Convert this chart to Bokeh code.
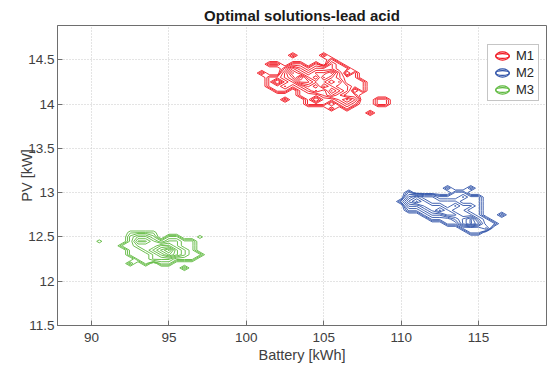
import numpy as np
from bokeh.plotting import figure
from bokeh.models import Range1d, Legend, LegendItem, FixedTicker
from bokeh.embed import file_html
from bokeh.resources import INLINE

title_text = "Optimal solutions-lead acid"
x_label = "Battery [kWh]"
y_label = "PV [kW]"
x_ticks = [90, 95, 100, 105, 110, 115]
y_ticks = [11.5, 12, 12.5, 13, 13.5, 14, 14.5]
series_names = ["M1", "M2", "M3"]
series_colors = ["#f0141e", "#2f52a8", "#5cb83c"]
levels = [0.4, 0.65, 0.9, 1.4, 1.9, 2.4, 2.9, 3.4, 3.9, 4.4, 4.9]

# ---- M1 (red) solution density, rows listed top (high PV) to bottom ----
m1_x = [100.5, 101.0, 101.5, 102.0, 102.5, 103.0, 103.5, 104.0, 104.5, 105.0,
        105.5, 106.0, 106.5, 107.0, 107.5, 108.0, 108.5, 109.0, 109.5]
m1_y = [14.65, 14.60, 14.55, 14.50, 14.45, 14.40, 14.35, 14.30, 14.25, 14.20,
        14.15, 14.10, 14.05, 14.00, 13.95, 13.90, 13.85]
m1_z = [
    [0, 0, 0, 0, 0, 0, 0, 0, 0, 0, 0, 0, 0, 0, 0, 0, 0, 0, 0],
    [0, 0, 0, 0, 0, 0, 0, 0, 0, 0, 0, 0, 0, 0, 0, 0, 0, 0, 0],
    [0, 0, 0, 0, 0, 1, 0, 0, 0, 1, 0, 0, 0, 0, 0, 0, 0, 0, 0],
    [0, 0, 0, 0, 0, 0, 0, 0, 0, 0, 1, 0, 0, 0, 0, 0, 0, 0, 0],
    [0, 0, 1, 1, 0, 1, 1, 0, 1, 0, 2, 1, 0, 0, 0, 0, 0, 0, 0],
    [0, 0, 0, 0, 1, 3, 2, 1, 2, 2, 2, 1, 1, 0, 0, 0, 0, 0, 0],
    [0, 1, 0, 0, 2, 4, 3, 2, 3, 3, 4, 2, 0, 1, 0, 0, 0, 0, 0],
    [0, 0, 1, 1, 2, 3, 5, 3, 2, 4, 3, 2, 1, 1, 0, 0, 0, 0, 0],
    [0, 0, 1, 0, 1, 2, 4, 4, 3, 3, 2, 3, 1, 1, 1, 0, 0, 0, 0],
    [0, 0, 1, 1, 2, 1, 2, 3, 2, 4, 3, 2, 2, 1, 1, 0, 0, 0, 0],
    [0, 0, 0, 1, 1, 0, 1, 2, 3, 2, 4, 3, 2, 0, 1, 0, 0, 0, 0],
    [0, 0, 0, 0, 0, 0, 1, 1, 1, 2, 3, 2, 1, 1, 0, 0, 0, 0, 0],
    [0, 0, 0, 0, 1, 0, 0, 1, 0, 1, 1, 2, 3, 2, 0, 0, 1, 1, 0],
    [0, 0, 0, 0, 0, 0, 0, 1, 1, 1, 0, 1, 2, 1, 0, 0, 1, 1, 0],
    [0, 0, 0, 0, 0, 0, 0, 0, 0, 0, 1, 0, 1, 0, 0, 0, 0, 0, 0],
    [0, 0, 0, 0, 0, 0, 0, 0, 0, 0, 0, 0, 0, 0, 0, 1, 0, 0, 0],
    [0, 0, 0, 0, 0, 0, 0, 0, 0, 0, 0, 0, 0, 0, 0, 0, 0, 0, 0],
]

# ---- M2 (blue) ----
m2_x = [109.5, 110.0, 110.5, 111.0, 111.5, 112.0, 112.5, 113.0, 113.5, 114.0,
        114.5, 115.0, 115.5, 116.0, 116.5, 117.0, 117.5]
m2_y = [13.15, 13.10, 13.05, 13.00, 12.95, 12.90, 12.85, 12.80, 12.75, 12.70,
        12.65, 12.60, 12.55, 12.50, 12.45]
m2_z = [
    [0, 0, 0, 0, 0, 0, 0, 0, 0, 0, 0, 0, 0, 0, 0, 0, 0],
    [0, 0, 0, 0, 0, 0, 0, 0, 0, 0, 0, 0, 0, 0, 0, 0, 0],
    [0, 0, 0, 0, 0, 0, 0, 1, 0, 0, 1, 0, 0, 0, 0, 0, 0],
    [0, 0, 1, 0, 0, 0, 0, 0, 1, 1, 0, 0, 0, 0, 0, 0, 0],
    [0, 0, 2, 3, 2, 2, 1, 1, 1, 2, 1, 1, 0, 0, 0, 0, 0],
    [0, 1, 3, 4, 3, 2, 2, 2, 2, 1, 1, 1, 0, 0, 0, 0, 0],
    [0, 0, 2, 2, 3, 3, 3, 2, 3, 2, 2, 1, 0, 0, 0, 0, 0],
    [0, 0, 1, 1, 2, 3, 4, 3, 2, 2, 1, 1, 0, 0, 0, 0, 0],
    [0, 0, 0, 0, 1, 2, 2, 3, 3, 2, 2, 1, 0, 0, 1, 0, 0],
    [0, 0, 0, 0, 0, 1, 1, 1, 2, 3, 4, 2, 1, 0, 0, 0, 0],
    [0, 0, 0, 0, 0, 0, 0, 1, 1, 3, 4, 3, 1, 1, 0, 0, 0],
    [0, 0, 0, 0, 0, 0, 0, 0, 0, 1, 1, 1, 2, 0, 0, 0, 0],
    [0, 0, 0, 0, 0, 0, 0, 0, 0, 0, 1, 1, 0, 0, 0, 0, 0],
    [0, 0, 0, 0, 0, 0, 0, 0, 0, 0, 0, 0, 0, 0, 0, 0, 0],
    [0, 0, 0, 0, 0, 0, 0, 0, 0, 0, 0, 0, 0, 0, 0, 0, 0],
]

# ---- M3 (green) ----
m3_x = [90.0, 90.5, 91.0, 91.5, 92.0, 92.5, 93.0, 93.5, 94.0, 94.5,
        95.0, 95.5, 96.0, 96.5, 97.0, 97.5]
m3_y = [12.65, 12.60, 12.55, 12.50, 12.45, 12.40, 12.35, 12.30, 12.25, 12.20,
        12.15, 12.10]
m3_z = [
    [0, 0, 0, 0, 0, 0, 0, 0, 0, 0, 0, 0, 0, 0, 0, 0],
    [0, 0, 0, 0, 0, 0, 0, 0, 0, 0, 0, 0, 0, 0, 0, 0],
    [0, 0, 0, 0, 0, 0.6, 0.6, 0.6, 0.6, 0, 0, 0, 0, 0, 0, 0],
    [0, 0, 0, 0, 0, 1, 2, 2, 1, 0, 1, 1, 0, 0, 0.6, 0],
    [0, 0.6, 0, 0, 0, 1, 3, 3, 2, 1, 2, 2, 1, 1, 0, 0],
    [0, 0, 0, 0, 1, 1, 2, 2, 2, 3, 3, 2, 1, 1, 0, 0],
    [0, 0, 0, 0, 0, 1, 1, 2, 3, 4, 5, 3, 2, 1, 0, 0],
    [0, 0, 0, 0, 0, 1, 1, 1, 2, 3, 4, 3, 2, 1, 1, 0],
    [0, 0, 0, 0, 0, 0, 1, 1, 2, 2, 2, 1, 1, 1, 0, 0],
    [0, 0, 0, 0, 0, 1, 0, 1, 0, 1, 1, 0, 0, 0, 0, 0],
    [0, 0, 0, 0, 0, 0, 0, 0, 0, 0, 0, 0, 1, 0, 0, 0],
    [0, 0, 0, 0, 0, 0, 0, 0, 0, 0, 0, 0, 0, 0, 0, 0],
]

FONT = "Liberation Sans"
TXT = "#404040"
AX = "#6e6e6e"

p = figure(width=547, height=368, output_backend="svg", toolbar_location=None,
           x_range=Range1d(87.8, 119.39), y_range=Range1d(11.5, 14.887),
           min_border_left=57, min_border_right=1, min_border_top=25, min_border_bottom=43,
           title=title_text, background_fill_color="white", border_fill_color="white")
p.title.align = "center"
p.title.vertical_align = "middle"
p.title.text_font = FONT
p.title.text_font_size = "15px"
p.title.text_font_style = "bold"
p.title.text_color = "#1a1a1a"
p.title.standoff = 2
p.outline_line_color = AX
p.outline_line_width = 1

for ax in (p.xaxis[0], p.yaxis[0]):
    ax.major_label_text_font = FONT
    ax.major_label_text_font_size = "13.5px"
    ax.major_label_text_color = TXT
    ax.axis_label_text_font = FONT
    ax.axis_label_text_font_size = "14.5px"
    ax.axis_label_text_font_style = "normal"
    ax.axis_label_text_color = TXT
    ax.axis_line_color = AX
    ax.major_tick_line_color = AX
    ax.major_tick_in = 5
    ax.major_tick_out = 0
    ax.minor_tick_line_color = None

p.xaxis[0].ticker = FixedTicker(ticks=x_ticks)
p.yaxis[0].ticker = FixedTicker(ticks=y_ticks)
p.xaxis[0].axis_label = x_label
p.yaxis[0].axis_label = y_label
p.xaxis[0].major_label_standoff = 7
p.xaxis[0].axis_label_standoff = 2
p.yaxis[0].major_label_standoff = 3
p.yaxis[0].axis_label_standoff = -10
p.yaxis[0].major_label_overrides = {11.5: "11.5", 12: "12", 12.5: "12.5", 13: "13",
                                    13.5: "13.5", 14: "14", 14.5: "14.5"}

p.xgrid.ticker = FixedTicker(ticks=x_ticks)
p.ygrid.ticker = FixedTicker(ticks=y_ticks)
for g in (p.xgrid[0], p.ygrid[0]):
    g.grid_line_color = "#c8c8c8"
    g.grid_line_dash = "1 2"
    g.grid_line_width = 1

datasets = [(m1_x, m1_y, m1_z), (m2_x, m2_y, m2_z), (m3_x, m3_y, m3_z)]
items = []
for (gx, gy, gz), name, col in zip(datasets, series_names, series_colors):
    xs = np.array(gx, dtype=float)
    ys = np.array(gy[::-1], dtype=float)
    zs = np.array(gz[::-1], dtype=float)
    p.contour(x=xs, y=ys, z=zs, levels=levels, line_color=col, line_width=0.9)
    # legend proxies: screen-sized ellipses with no drawable position
    proxies = []
    for h in (12, 7):
        proxies.append(p.ellipse(x=[np.nan], y=[np.nan], width=20, height=h,
                                 width_units="screen", height_units="screen",
                                 fill_color=None, line_color=col, line_width=1.1))
    items.append(LegendItem(label=name, renderers=proxies))

legend = Legend(items=items, location=(430, 224))
legend.label_text_font = FONT
legend.label_text_font_size = "13px"
legend.label_text_color = "#262626"
legend.glyph_width = 24
legend.glyph_height = 17
legend.label_standoff = 2
legend.spacing = 0
legend.padding = 2
legend.margin = 0
legend.label_height = 17
legend.border_line_color = "#8c8c8c"
legend.border_line_width = 1
legend.background_fill_color = "white"
legend.background_fill_alpha = 1
p.add_layout(legend)

open("out.html", "w").write(file_html(p, INLINE))
